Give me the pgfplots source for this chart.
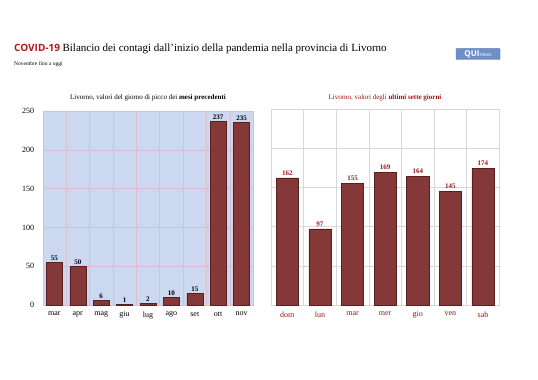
\documentclass[border=0pt]{standalone}
\usepackage{pgfplots}
\pgfplotsset{compat=1.18}
\usepackage{fontspec}
\setmainfont{Liberation Serif}
\newfontfamily\sansb{Open Sans}
\definecolor{barred}{HTML}{853838}
\definecolor{barline}{HTML}{5A1E1E}
\definecolor{titred}{HTML}{B01818}
\definecolor{labred}{HTML}{9A1515}
\definecolor{bgblue}{HTML}{CBD8F0}
\definecolor{gridpink}{HTML}{D9BFCB}
\definecolor{gridgray}{HTML}{D8D8D8}
\definecolor{logoblue}{HTML}{6E8FC8}
\begin{document}
\begin{tikzpicture}[x=1pt,y=1pt]
\fill[white] (0,0) rectangle (538,380);
% titles
\node[anchor=base west,inner sep=0] at (14,328) {{\sansb\bfseries\fontsize{10}{12}\selectfont\color{titred}COVID-19} \fontsize{11}{13}\selectfont Bilancio dei contagi dall'inizio della pandemia nella provincia di Livorno};
\node[anchor=base west,inner sep=0] at (14,314) {\fontsize{5.5}{6}\selectfont Novembre fino a oggi};
\node[fill=logoblue,draw=logoblue!70!black,inner sep=1pt,minimum width=44pt,minimum height=11pt,rounded corners=1pt] at (478,326) {{\sansb\bfseries\fontsize{8}{9}\selectfont\color{white}QUI}{\sansb\fontsize{5}{6}\selectfont\color{white}news}};
\node[anchor=base] at (148,280) {\fontsize{7}{8}\selectfont Livorno, valori del giorno di picco dei \textbf{mesi precedenti}};
\node[anchor=base] at (385,280) {\fontsize{7}{8}\selectfont\color{labred} Livorno, valori degli \textbf{ultimi sette giorni}};
\begin{axis}[
  at={(42.7pt,75pt)}, anchor=south west,
  scale only axis, width=210.6pt, height=194pt,
  ybar, bar width=0.68,
  xmin=-0.5, xmax=8.5, ymin=0, ymax=250,
  xtick={0,...,8},
  xticklabels={mar,apr,mag,giu,lug,ago,set,ott,nov},
  minor xtick={0.5,1.5,...,7.5},
  ytick={0,50,100,150,200,250},
  xminorgrids, ymajorgrids,
  grid style={gridpink, line width=0.5pt},
  minor grid style={gridpink, line width=0.5pt},
  major tick length=0pt, minor tick length=0pt,
  axis line style={gridpink},
  axis background/.style={fill=bgblue},
  tick label style={font=\fontsize{8}{9}\selectfont},
  xticklabel style={yshift=-3pt},
  yticklabel style={xshift=-5pt},
  /pgf/number format/assume math mode=true,
  nodes near coords={\bfseries\pgfmathprintnumber{\pgfplotspointmeta}},
  every node near coord/.append style={font=\fontsize{7}{8}\selectfont\bfseries, inner sep=1.5pt},
  clip=false,
]
\addplot[fill=barred, draw=barline, line width=0.5pt] coordinates {(0,55) (1,50) (2,6) (3,1) (4,2) (5,10) (6,15) (7,237) (8,235)};
\end{axis}
\begin{axis}[
  at={(271pt,75pt)}, anchor=south west,
  scale only axis, width=228.3pt, height=196pt,
  ybar, bar width=0.68,
  xmin=-0.5, xmax=6.5, ymin=0, ymax=250,
  xtick={0,...,6},
  xticklabels={dom,lun,mar,mer,gio,ven,sab},
  minor xtick={0.5,1.5,...,5.5},
  ytick={50,100,150,200,250},
  yticklabels={},
  xminorgrids, ymajorgrids,
  grid style={gridgray, line width=0.5pt},
  minor grid style={gridgray, line width=0.5pt},
  major tick length=0pt, minor tick length=0pt,
  axis line style={gridgray},
  tick label style={font=\fontsize{8}{9}\selectfont, text=labred},
  xticklabel style={yshift=-3pt},
  /pgf/number format/assume math mode=true,
  nodes near coords={\textbf{\pgfmathprintnumber{\pgfplotspointmeta}}},
  every node near coord/.append style={font=\fontsize{7}{8}\selectfont\bfseries, text=labred, inner sep=2.5pt},
  clip=false,
]
\addplot[fill=barred, draw=barline, line width=0.5pt] coordinates {(0,162) (1,97) (2,155) (3,169) (4,164) (5,145) (6,174)};
\end{axis}
\end{tikzpicture}
\end{document}
